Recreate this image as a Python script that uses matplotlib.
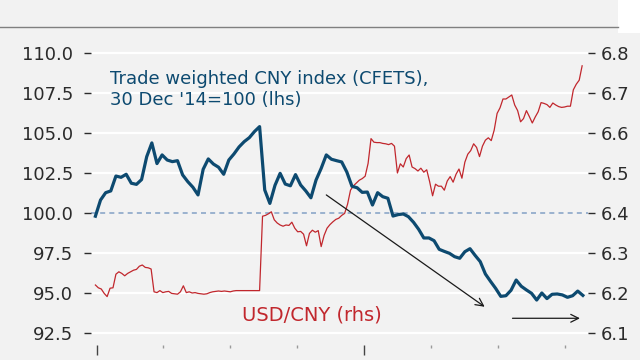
import numpy as np
import pandas as pd
import matplotlib
matplotlib.use("Agg")
import matplotlib.pyplot as plt
import matplotlib.dates as mdates
from matplotlib.lines import Line2D
from matplotlib.patches import Rectangle

# Trade weighted CNY index (CFETS), weekly from 30 Dec 2014
cfets = [99.8, 100.81, 101.27, 101.38, 102.31, 102.23, 102.42, 101.86, 101.79, 102.09,
         103.52, 104.38, 103.09, 103.63, 103.31, 103.21, 103.27, 102.38, 101.96, 101.61,
         101.13, 102.73, 103.38, 103.06, 102.86, 102.42, 103.31, 103.69, 104.13, 104.46,
         104.71, 105.09, 105.4, 101.44, 100.6, 101.73, 102.48, 101.81, 101.7, 102.40,
         101.75, 101.38, 100.95, 102.06, 102.79, 103.63, 103.36, 103.27, 103.19, 102.56,
         101.67, 101.58, 101.29, 101.31, 100.50, 101.27, 101.02, 100.92, 99.81, 99.90,
         99.94, 99.77, 99.42, 98.98, 98.44, 98.44, 98.27, 97.73, 97.60, 97.48,
         97.27, 97.17, 97.58, 97.77, 97.35, 96.96, 96.19, 95.73, 95.29, 94.79,
         94.83, 95.17, 95.81, 95.42, 95.19, 94.98, 94.56, 95.0, 94.65, 94.92,
         94.94, 94.88, 94.73, 94.83, 95.12, 94.85]

# USD/CNY, every 4 days from 30 Dec 2014
usdcny = [6.220, 6.213, 6.210, 6.199, 6.191, 6.212, 6.213, 6.247, 6.253, 6.249,
          6.243, 6.249, 6.253, 6.257, 6.259, 6.267, 6.270, 6.264, 6.263, 6.260,
          6.203, 6.201, 6.206, 6.201, 6.203, 6.204, 6.199, 6.198, 6.197, 6.203,
          6.218, 6.201, 6.203, 6.200, 6.201, 6.199, 6.198, 6.197, 6.198, 6.201,
          6.203, 6.204, 6.205, 6.204, 6.205, 6.204, 6.203, 6.205, 6.206, 6.206,
          6.206, 6.206, 6.206, 6.206, 6.206, 6.206, 6.206, 6.392, 6.394, 6.398,
          6.403, 6.383, 6.375, 6.370, 6.367, 6.370, 6.369, 6.377, 6.362, 6.353,
          6.354, 6.347, 6.318, 6.349, 6.357, 6.352, 6.356, 6.316, 6.344, 6.362,
          6.371, 6.378, 6.384, 6.387, 6.394, 6.399, 6.422, 6.457, 6.468, 6.475,
          6.482, 6.486, 6.492, 6.524, 6.586, 6.577, 6.576, 6.576, 6.574, 6.573,
          6.571, 6.574, 6.567, 6.500, 6.523, 6.515, 6.536, 6.545, 6.515, 6.511,
          6.505, 6.512, 6.502, 6.508, 6.478, 6.443, 6.472, 6.467, 6.467, 6.457,
          6.480, 6.491, 6.477, 6.497, 6.510, 6.487, 6.527, 6.547, 6.556, 6.573,
          6.564, 6.541, 6.567, 6.582, 6.588, 6.581, 6.607, 6.649, 6.663, 6.685,
          6.685, 6.690, 6.695, 6.670, 6.656, 6.628, 6.636, 6.656, 6.641, 6.625,
          6.640, 6.653, 6.676, 6.674, 6.671, 6.664, 6.675, 6.670, 6.666, 6.664,
          6.665, 6.667, 6.667, 6.708, 6.722, 6.732, 6.768]

cfets_dates = pd.date_range("2014-12-30", periods=len(cfets), freq="7D")
usdcny_dates = pd.date_range("2014-12-30", periods=len(usdcny), freq="4D")

lhs_ticks = [92.5, 95.0, 97.5, 100.0, 102.5, 105.0, 107.5, 110.0]
rhs_ticks = [6.1, 6.2, 6.3, 6.4, 6.5, 6.6, 6.7, 6.8]

BG = "#f2f2f2"
BLUE = "#0d4a70"
RED = "#c1272d"
TXT = "#2b2b2b"

fig = plt.figure(figsize=(6.4, 3.6), dpi=100, facecolor=BG)
ax = fig.add_axes([91 / 640, 1 - 345 / 360, 497 / 640, 305 / 360])
ax_r = ax.twinx()
ax.set_zorder(2)
ax.patch.set_visible(False)
ax_r.patch.set_visible(False)

# grid lines (on the lower axes so both series sit above them)
for r in rhs_ticks:
    if r != 6.4:
        ax_r.axhline(r, color="white", lw=1.6, zorder=0)
ax_r.axhline(6.4, color="#8ba7c9", lw=1.2, ls=(0, (3, 2.5)), zorder=1)

ax_r.plot(usdcny_dates, usdcny, color=RED, lw=0.9, zorder=3)
ax.plot(cfets_dates, cfets, color=BLUE, lw=2.3, zorder=3)

ax.set_ylim(91.75, 110.8125)
ax_r.set_ylim(6.07, 6.8325)
ax.set_xlim(pd.Timestamp("2014-12-24"), pd.Timestamp("2016-11-01"))

ax.set_yticks(lhs_ticks)
ax.set_yticklabels([f"{v:.1f}" for v in lhs_ticks])
ax_r.set_yticks(rhs_ticks)
ax_r.set_yticklabels([f"{v:.1f}" for v in rhs_ticks])

for a in (ax, ax_r):
    for s in a.spines.values():
        s.set_visible(False)

ax.tick_params(axis="y", length=5, width=1, color=TXT, pad=8, labelsize=13, labelcolor=TXT)
ax_r.tick_params(axis="y", length=5, width=1, color=TXT, pad=4, labelsize=13, labelcolor=TXT)

ax.xaxis.set_major_locator(mdates.YearLocator())
ax.xaxis.set_minor_locator(mdates.MonthLocator(bymonth=[4, 7, 10]))
ax.tick_params(axis="x", which="major", length=7, width=1, color="#444444", labelbottom=False)
ax.tick_params(axis="x", which="minor", length=2.5, width=1, color="#9a9a9a", labelbottom=False)

ax.text(0.038, 0.90, "Trade weighted CNY index (CFETS),\n30 Dec '14=100 (lhs)",
        transform=ax.transAxes, color=BLUE, fontsize=13, va="top", ha="left")
ax.text(0.303, 0.079, "USD/CNY (rhs)", transform=ax.transAxes, color=RED,
        fontsize=14, va="baseline", ha="left")

arrow = dict(arrowstyle="->", color="#1a1a1a", lw=0.9, shrinkA=0, shrinkB=0, mutation_scale=14)
ax.annotate("", xy=(pd.Timestamp("2016-06-13"), 94.14),
            xytext=(pd.Timestamp("2015-11-10"), 101.13), arrowprops=arrow)
ax.annotate("", xy=(pd.Timestamp("2016-10-21"), 93.42),
            xytext=(pd.Timestamp("2016-07-21"), 93.42), arrowprops=arrow)

# header rule and corner
fig.add_artist(Line2D([0, 618 / 640], [1 - 27 / 360] * 2, color="#808080", lw=1.0))
fig.add_artist(Rectangle((618 / 640, 1 - 33 / 360), 22 / 640, 33 / 360,
                         facecolor="white", edgecolor="none"))

fig.savefig("out.png", dpi=100, facecolor=BG)
